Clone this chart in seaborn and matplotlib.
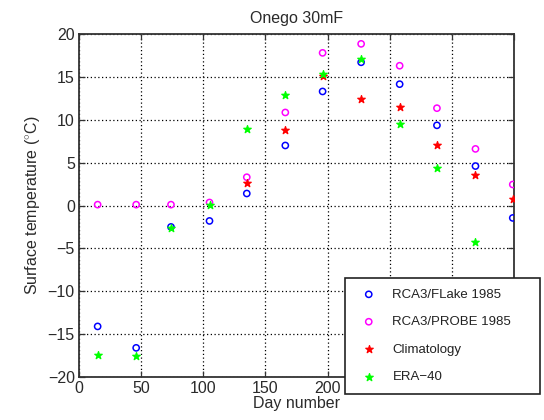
import matplotlib
matplotlib.use("Agg")
import matplotlib.pyplot as plt
import seaborn as sns
import pandas as pd

# Mid-month day numbers
days = [15, 46, 74, 105, 135, 166, 196, 227, 258, 288, 319, 349]

flake_1985 = [-14.1, -16.6, -2.5, -1.8, 1.4, 7.0, 13.3, 16.7, 14.15, 9.35, 4.6, -1.45]
probe_1985 = [0.1, 0.1, 0.1, 0.35, 3.3, 10.85, 17.8, 18.85, 16.3, 11.35, 6.6, 2.45]

clim_days = [135, 166, 196, 227, 258, 288, 319, 349]
climatology = [2.6, 8.8, 15.1, 12.45, 11.45, 7.1, 3.5, 0.8]

era_days = [15, 46, 74, 105, 135, 166, 196, 227, 258, 288, 319]
era40 = [-17.4, -17.5, -2.6, 0.05, 8.95, 12.9, 15.35, 17.05, 9.5, 4.4, -4.2]

x_ticks = [0, 50, 100, 150, 200, 250, 300, 350]
y_ticks = [-20, -15, -10, -5, 0, 5, 10, 15, 20]

sns.set_theme(style="white")
plt.rcParams["font.family"] = ["Liberation Sans", "DejaVu Sans"]
plt.rcParams["mathtext.fontset"] = "custom"
plt.rcParams["mathtext.rm"] = "Liberation Sans"

fig = plt.figure(figsize=(5.44, 4.2), dpi=100, facecolor="white")
ax = fig.add_axes([79 / 544, 43 / 420, 435 / 544, 343 / 420])
ax.set_facecolor("white")

df_flake = pd.DataFrame({"day": days, "temp": flake_1985})
df_probe = pd.DataFrame({"day": days, "temp": probe_1985})
df_clim = pd.DataFrame({"day": clim_days, "temp": climatology})
df_era = pd.DataFrame({"day": era_days, "temp": era40})

sns.scatterplot(data=df_flake, x="day", y="temp", ax=ax, marker="o", s=20,
                facecolor="none", edgecolor="#0000ff", linewidth=1.1,
                label="RCA3/FLake 1985", zorder=3)
sns.scatterplot(data=df_probe, x="day", y="temp", ax=ax, marker="o", s=20,
                facecolor="none", edgecolor="#ff00ff", linewidth=1.1,
                label="RCA3/PROBE 1985", zorder=3)
sns.scatterplot(data=df_clim, x="day", y="temp", ax=ax, marker="*", s=32,
                color="#ff0000", edgecolor="#ff0000", linewidth=0.9,
                label="Climatology", zorder=4)
sns.scatterplot(data=df_era, x="day", y="temp", ax=ax, marker="*", s=32,
                color="#00ff00", edgecolor="#00ff00", linewidth=0.9,
                label="ERA\u221240", zorder=5)

ax.set_xlim(0, 350)
ax.set_ylim(-20, 20)
ax.set_xticks(x_ticks)
ax.set_yticks(y_ticks)
ax.set_xticklabels([str(v) for v in x_ticks])
ax.set_yticklabels([str(v).replace("-", "\u2212") for v in y_ticks])

ax.grid(True, color="black", linestyle=(0, (1, 2.0)), linewidth=0.9)
ax.set_axisbelow(True)
for sp in ax.spines.values():
    sp.set_color("#333333")
    sp.set_linewidth(1.3)
    sp.set_visible(True)

ax.tick_params(axis="both", direction="in", length=4, width=0.9,
               colors="#333333", labelsize=11.5, labelcolor="#2a2a2a",
               top=True, right=True, bottom=True, left=True, pad=3)

ax.set_xlabel("Day number", fontsize=11.5, color="#2a2a2a", labelpad=0)
ax.set_ylabel(r"Surface temperature ($^{\circ}$C)", fontsize=11.5,
              color="#2a2a2a", labelpad=4)
ax.set_title("Onego 30mF", fontsize=11.5, color="#2a2a2a", pad=8)

leg = ax.legend(loc="upper left",
                bbox_to_anchor=(345 / 544, 1 - 278 / 420 - 0.01, 195 / 544, 0.01),
                bbox_transform=fig.transFigure, mode="expand",
                fontsize=9.5, frameon=True, fancybox=False, shadow=False,
                borderpad=0.8, labelspacing=1.15, handlelength=2.0,
                handletextpad=0.8, borderaxespad=0, markerscale=1.0)
leg.get_frame().set_edgecolor("#222222")
leg.get_frame().set_linewidth(1.2)
leg.get_frame().set_facecolor("white")
leg.get_frame().set_alpha(1.0)
leg.set_zorder(10)
for t in leg.get_texts():
    t.set_color("#222222")

fig.savefig("out.png", dpi=100, facecolor="white")
